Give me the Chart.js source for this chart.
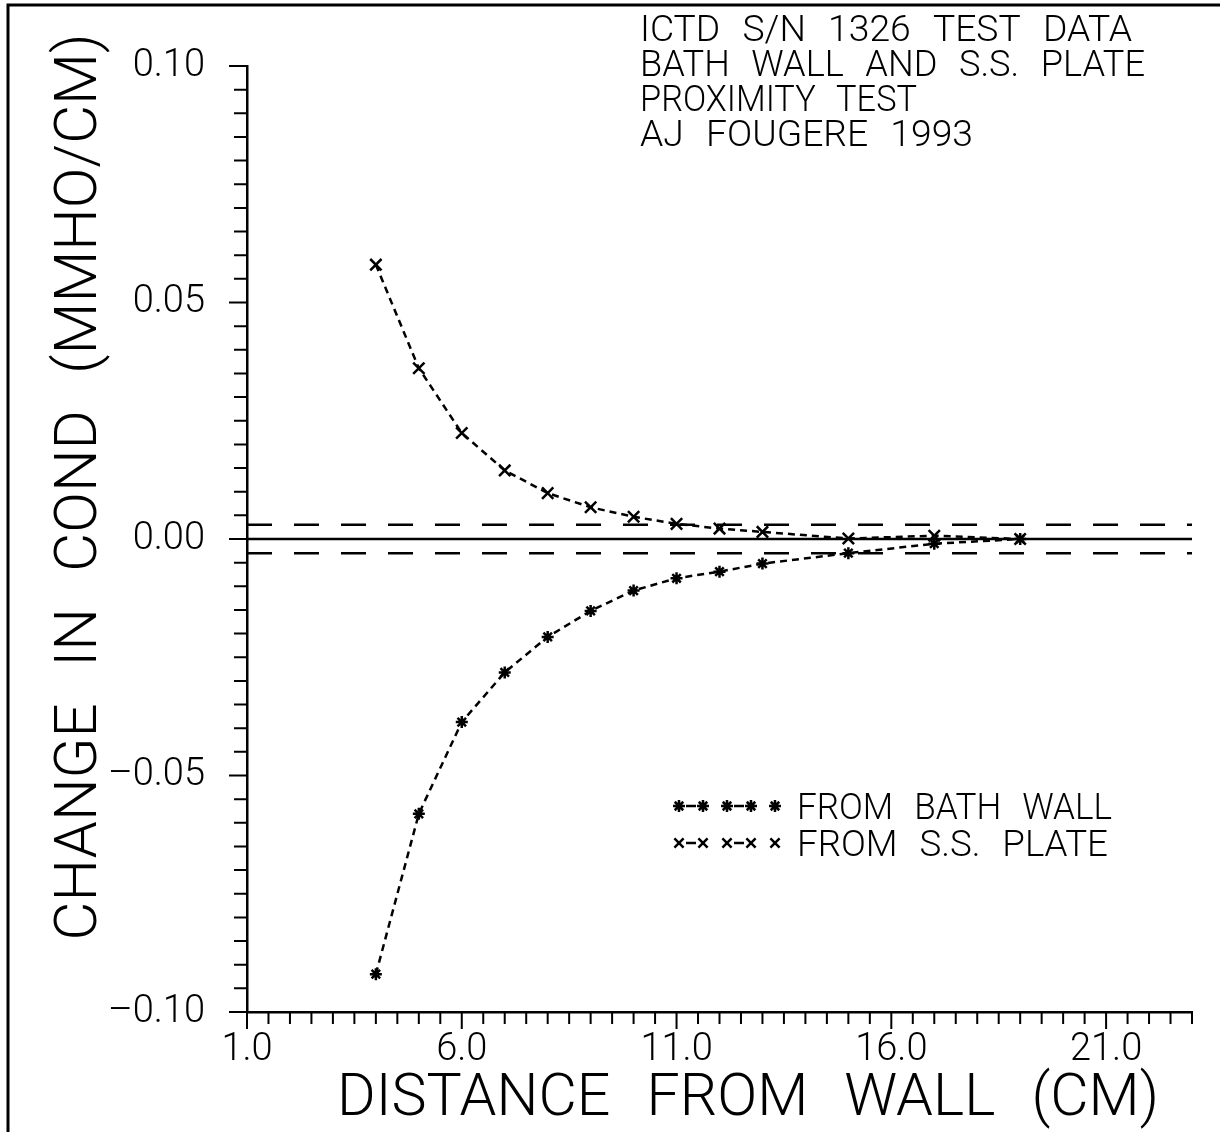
<!DOCTYPE html>
<html>
<head>
<meta charset="utf-8">
<title>ICTD S/N 1326 proximity test</title>
<script src="https://cdn.jsdelivr.net/npm/chart.js@4.4.0/dist/chart.umd.min.js"></script>
<style>
  html, body { margin: 0; padding: 0; background: #fff; }
  canvas { display: block; }
</style>
</head>
<body>
<canvas id="myChart" width="1220" height="1132"></canvas>
<script>
// distance from wall (cm)
var distance = [4, 5, 6, 7, 8, 9, 10, 11, 12, 13, 15, 17, 19];
// change in cond (mmho/cm)
var bathWall = [-0.0920, -0.0581, -0.0387, -0.0282, -0.0207, -0.0152, -0.0109, -0.0083, -0.0069, -0.0052, -0.0030, -0.0010, 0.0000];
var ssPlate  = [0.0580, 0.0361, 0.0224, 0.0145, 0.0097, 0.0067, 0.0047, 0.0032, 0.0022, 0.0015, 0.0001, 0.0007, 0.0000];
var band = 0.003;          // dashed +/- band
var xRange = [1, 23];
var yRange = [-0.10, 0.10];
var xStep = 0.5, xMajor = 5;
var yStep = 0.005, yMajor = 0.05;

var titleLines = ['ICTD S/N 1326 TEST DATA', 'BATH WALL AND S.S. PLATE', 'PROXIMITY TEST', 'AJ FOUGERE 1993'];
var legendLabels = ['FROM BATH WALL', 'FROM S.S. PLATE'];
var xTitle = 'DISTANCE FROM WALL (CM)';
var yTitle = 'CHANGE IN COND (MMHO/CM)';

var FONT = 'Roboto, "Liberation Sans", sans-serif';

function pts(ys) {
  return distance.map(function (x, i) { return { x: x, y: ys[i] }; });
}
function flat(y) {
  return [{ x: xRange[0], y: y }, { x: xRange[1], y: y }];
}
function isMajor(v, start, step) {
  var q = (v - start) / step;
  return Math.abs(q - Math.round(q)) < 1e-6;
}

// draws text squeezed/stretched to a given width, wide word gaps like the plotter font
function fitText(ctx, str, x, y, w, size, align) {
  ctx.save();
  ctx.font = '300 ' + size + 'px ' + FONT;
  ctx.wordSpacing = Math.round(size * 0.36) + 'px';
  ctx.textBaseline = 'alphabetic';
  ctx.textAlign = 'left';
  var m = ctx.measureText(str).width;
  var sx = w / m;
  ctx.translate(x, y);
  ctx.scale(sx, 1);
  ctx.fillText(str, align === 'center' ? -m / 2 : 0, 0);
  ctx.restore();
}

function marker(ctx, style, x, y, r) {
  ctx.beginPath();
  var d = r * Math.SQRT1_2;
  if (style === 'star') {
    ctx.moveTo(x, y - r); ctx.lineTo(x, y + r);
    ctx.moveTo(x - r, y); ctx.lineTo(x + r, y);
  }
  ctx.moveTo(x - d, y - d); ctx.lineTo(x + d, y + d);
  ctx.moveTo(x - d, y + d); ctx.lineTo(x + d, y - d);
  ctx.stroke();
}

var decor = {
  id: 'decor',
  afterDraw: function (chart) {
    var ctx = chart.ctx;
    var xs = chart.scales.x, ys = chart.scales.y;
    var area = chart.chartArea;
    ctx.save();
    ctx.strokeStyle = '#000';
    ctx.fillStyle = '#000';

    // page frame (top and left)
    ctx.lineWidth = 3;
    ctx.beginPath();
    ctx.moveTo(8, 1132); ctx.lineTo(8, 5); ctx.lineTo(1220, 5);
    ctx.stroke();

    // ticks, major longer
    ctx.lineWidth = 2;
    ctx.beginPath();
    ys.ticks.forEach(function (t) {
      var py = ys.getPixelForValue(t.value);
      var len = isMajor(t.value, 0, yMajor) ? 18 : 13;
      ctx.moveTo(area.left, py); ctx.lineTo(area.left - len, py);
    });
    xs.ticks.forEach(function (t) {
      var px = xs.getPixelForValue(t.value);
      var len = isMajor(t.value, xRange[0], xMajor) ? 17 : 12;
      ctx.moveTo(px, area.bottom); ctx.lineTo(px, area.bottom + len);
    });
    ctx.stroke();

    // title block
    titleLines.forEach(function (s, i) {
      var w = [492, 505, 277, 333][i];
      fitText(ctx, s, 640, 41 + i * 35, w, 37);
    });

    // legend
    var styles = ['star', 'crossRot'];
    var radii = [6, 6.5];
    var legY = [806, 843];
    var legW = [315, 311];
    legendLabels.forEach(function (s, i) {
      var y = legY[i];
      var x0 = 679, gap = 24;
      ctx.lineWidth = 2.5;
      ctx.setLineDash([]);
      ctx.beginPath();
      ctx.moveTo(x0 + 7, y); ctx.lineTo(x0 + gap - 7, y);
      ctx.moveTo(x0 + 2 * gap + 7, y); ctx.lineTo(x0 + 3 * gap - 7, y);
      ctx.stroke();
      for (var k = 0; k < 5; k++) marker(ctx, styles[i], x0 + k * gap, y, radii[i]);
      fitText(ctx, s, 797, y + 13, legW[i], 37);
    });

    // axis titles
    fitText(ctx, xTitle, 337, 1115, 822, 60);
    ctx.save();
    ctx.translate(96, 487);
    ctx.rotate(-Math.PI / 2);
    fitText(ctx, yTitle, 0, 0, 907, 60, 'center');
    ctx.restore();

    ctx.restore();
  }
};

var ctx = document.getElementById('myChart').getContext('2d');

new Chart(ctx, {
  type: 'line',
  data: {
    datasets: [
      { label: 'zero', data: flat(0), borderColor: '#000', borderWidth: 2.5, pointRadius: 0 },
      { label: 'upper', data: flat(band), borderColor: '#000', borderWidth: 2.5, borderDash: [25, 22], pointRadius: 0 },
      { label: 'lower', data: flat(-band), borderColor: '#000', borderWidth: 2.5, borderDash: [25, 22], pointRadius: 0 },
      {
        label: legendLabels[0], data: pts(bathWall),
        borderColor: '#000', borderWidth: 2.5, borderDash: [7, 5],
        pointStyle: 'star', pointRadius: 6, pointBorderWidth: 2.5, pointBorderColor: '#000'
      },
      {
        label: legendLabels[1], data: pts(ssPlate),
        borderColor: '#000', borderWidth: 2.5, borderDash: [7, 5],
        pointStyle: 'crossRot', pointRadius: 8, pointBorderWidth: 2.5, pointBorderColor: '#000'
      }
    ]
  },
  options: {
    responsive: false,
    animation: false,
    clip: false,
    layout: { padding: { top: 66, right: 28, left: 0, bottom: 0 } },
    plugins: { legend: { display: false }, tooltip: { enabled: false } },
    scales: {
      x: {
        type: 'linear', min: xRange[0], max: xRange[1],
        ticks: {
          stepSize: xStep, autoSkip: false, maxRotation: 0, color: '#000', padding: 0,
          font: { family: FONT, size: 38, weight: '300' },
          callback: function (v) { return isMajor(v, xRange[0], xMajor) ? v.toFixed(1) : ''; }
        },
        grid: { drawOnChartArea: false, drawTicks: true, tickLength: 16, tickColor: 'rgba(0,0,0,0)' },
        border: { display: true, color: '#000', width: 2.5 },
        afterFit: function (s) { s.height = 120; }
      },
      y: {
        type: 'linear', min: yRange[0], max: yRange[1],
        ticks: {
          stepSize: yStep, autoSkip: false, color: '#000', padding: 24,
          font: { family: FONT, size: 38, weight: '300' },
          callback: function (v) {
            if (!isMajor(v, 0, yMajor)) return '';
            var s = Math.abs(v).toFixed(2);
            return v < -1e-9 ? '\u2013' + s : s;
          }
        },
        grid: { drawOnChartArea: false, drawTicks: true, tickLength: 18, tickColor: 'rgba(0,0,0,0)' },
        border: { display: true, color: '#000', width: 2.5 },
        afterFit: function (s) { s.width = 247; }
      }
    }
  },
  plugins: [decor]
});
</script>
</body>
</html>
